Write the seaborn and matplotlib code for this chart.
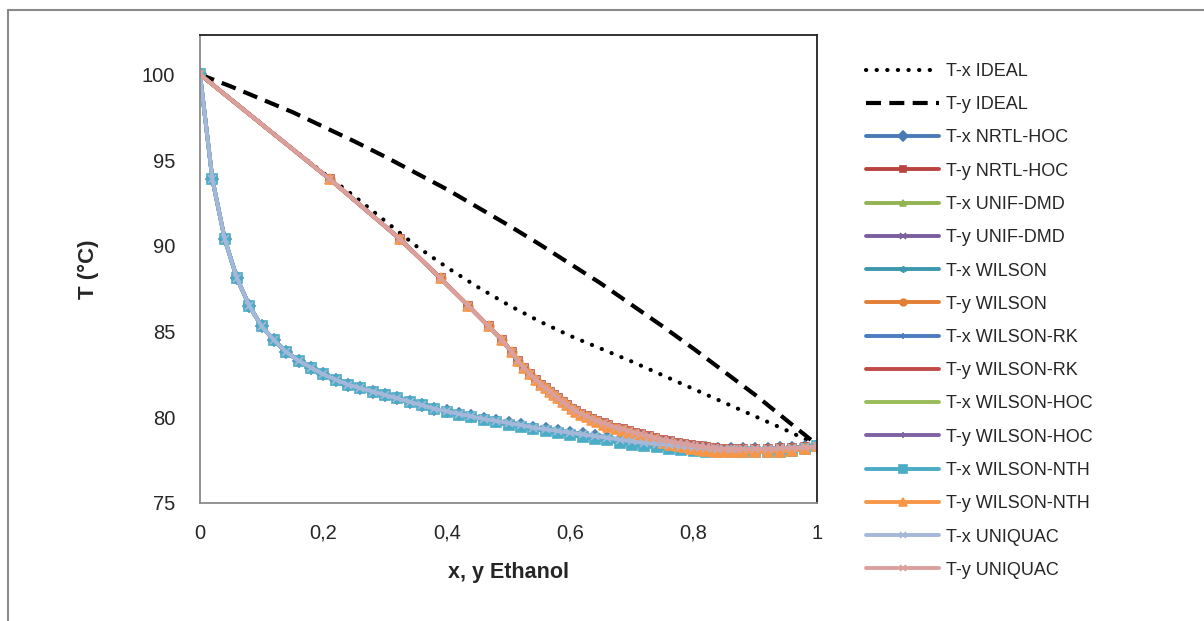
import matplotlib
matplotlib.use("Agg")
import matplotlib.pyplot as plt
from matplotlib.lines import Line2D
import seaborn as sns

# ---- data -------------------------------------------------------------
# ideal (Raoult) bubble and dew curves
ideal_comp = [0.00, 0.05, 0.10, 0.15, 0.20, 0.25, 0.30, 0.35, 0.40, 0.45, 0.50,
              0.55, 0.60, 0.65, 0.70, 0.75, 0.80, 0.85, 0.90, 0.95, 1.00]
ideal_T_x = [100.0, 98.55, 97.1, 95.65, 94.25, 92.9, 91.45, 90.0, 88.75, 87.6, 86.55,
             85.6, 84.75, 84.0, 83.25, 82.45, 81.65, 80.85, 80.05, 79.25, 78.4]
ideal_T_y = [100.0, 99.3, 98.55, 97.8, 96.95, 96.1, 95.2, 94.25, 93.3, 92.25, 91.2,
             90.1, 88.95, 87.8, 86.55, 85.3, 84.0, 82.65, 81.3, 79.85, 78.4]

# liquid mole fraction of ethanol (common grid of the model runs)
x_liq = [0.00, 0.02, 0.04, 0.06, 0.08, 0.10, 0.12, 0.14, 0.16, 0.18,
         0.20, 0.22, 0.24, 0.26, 0.28, 0.30, 0.32, 0.34, 0.36, 0.38,
         0.40, 0.42, 0.44, 0.46, 0.48, 0.50, 0.52, 0.54, 0.56, 0.58,
         0.60, 0.62, 0.64, 0.66, 0.68, 0.70, 0.72, 0.74, 0.76, 0.78,
         0.80, 0.82, 0.84, 0.86, 0.88, 0.90, 0.92, 0.94, 0.96, 0.98, 1.00]

# equilibrium temperature (°C) from the activity-coefficient models
T_eq = [100.0, 93.9, 90.4, 88.1, 86.5, 85.3, 84.5, 83.8, 83.3, 82.9,
        82.5, 82.2, 81.9, 81.7, 81.5, 81.3, 81.1, 80.9, 80.7, 80.5,
        80.35, 80.2, 80.05, 79.9, 79.8, 79.65, 79.55, 79.4, 79.3, 79.2,
        79.1, 79.0, 78.9, 78.8, 78.7, 78.6, 78.5, 78.45, 78.4, 78.3,
        78.25, 78.2, 78.15, 78.15, 78.15, 78.15, 78.15, 78.2, 78.2, 78.25, 78.3]

# WILSON-NTH predicts a slightly lower azeotrope temperature
T_eq_nth = [100.0, 93.9, 90.4, 88.1, 86.5, 85.3, 84.5, 83.8, 83.3, 82.9,
            82.5, 82.2, 81.9, 81.7, 81.5, 81.3, 81.1, 80.9, 80.7, 80.5,
            80.3, 80.15, 80.0, 79.85, 79.7, 79.55, 79.45, 79.3, 79.2, 79.1,
            78.95, 78.85, 78.75, 78.65, 78.5, 78.4, 78.3, 78.25, 78.15, 78.1,
            78.05, 78.0, 77.95, 77.95, 77.95, 77.95, 78.0, 78.0, 78.05, 78.15, 78.3]

# vapour mole fraction of ethanol in equilibrium with x_liq
y_vap = [0.000, 0.210, 0.324, 0.390, 0.435, 0.468, 0.490, 0.505, 0.515, 0.525,
         0.535, 0.545, 0.553, 0.560, 0.567, 0.573, 0.580, 0.588, 0.595, 0.603,
         0.610, 0.618, 0.627, 0.636, 0.643, 0.654, 0.662, 0.675, 0.685, 0.695,
         0.705, 0.715, 0.727, 0.738, 0.750, 0.762, 0.775, 0.785, 0.795, 0.810,
         0.820, 0.835, 0.850, 0.865, 0.880, 0.900, 0.920, 0.940, 0.960, 0.980, 1.000]

models = ["NRTL-HOC", "UNIF-DMD", "WILSON", "WILSON-RK",
          "WILSON-HOC", "WILSON-NTH", "UNIQUAC"]

x_ticks = [0.0, 0.2, 0.4, 0.6, 0.8, 1.0]
x_tick_labels = ["0", "0,2", "0,4", "0,6", "0,8", "1"]
y_ticks = [75, 80, 85, 90, 95, 100]

# ---- style ------------------------------------------------------------
# (T-x colour, T-x marker, T-y colour, T-y marker) for each model
model_style = {
    "NRTL-HOC":   ("#4a7ab5", "D", "#b9433f", "s"),
    "UNIF-DMD":   ("#93b352", "^", "#7a5e9d", "x"),
    "WILSON":     ("#3d98ad", (6, 2, 0), "#e27f35", "o"),
    "WILSON-RK":  ("#4b7cbf", "+", "#c04b48", "_"),
    "WILSON-HOC": ("#9abb5a", "_", "#7f62a3", "+"),
    "WILSON-NTH": ("#4bacc6", "s", "#f79646", "^"),
    "UNIQUAC":    ("#a6b8da", "x", "#d9a09e", "x"),
}

sns.set_theme(style="white")
plt.rcParams["font.family"] = ["Liberation Sans", "DejaVu Sans"]

fig = plt.figure(figsize=(12.04, 6.21), dpi=100)
ax = fig.add_axes([200 / 1204, 1 - 503 / 621, 617 / 1204, 468 / 621])

sns.lineplot(x=ideal_comp, y=ideal_T_x, ax=ax, color="black", lw=3,
             linestyle=(0, (0.05, 2.5)), dash_capstyle="round",
             label="T-x IDEAL", sort=False, estimator=None)
sns.lineplot(x=ideal_comp, y=ideal_T_y, ax=ax, color="black", lw=3,
             linestyle=(0, (3.6, 2.0)), label="T-y IDEAL",
             sort=False, estimator=None)

for m in models:
    cx, mx, cy, my = model_style[m]
    temps = T_eq_nth if m == "WILSON-NTH" else T_eq
    ms = 7 if m == "WILSON-NTH" else 6
    sns.lineplot(x=x_liq, y=temps, ax=ax, color=cx, lw=2.8, marker=mx,
                 markersize=ms, markeredgecolor=cx, markerfacecolor=cx,
                 markeredgewidth=1.2, label=f"T-x {m}",
                 sort=False, estimator=None)
    sns.lineplot(x=y_vap, y=temps, ax=ax, color=cy, lw=2.8, marker=my,
                 markersize=ms, markeredgecolor=cy, markerfacecolor=cy,
                 markeredgewidth=1.2, label=f"T-y {m}",
                 sort=False, estimator=None)

ax.set_xlim(0, 1)
ax.set_ylim(75, 102.3)
ax.set_xticks(x_ticks)
ax.set_xticklabels(x_tick_labels)
ax.set_yticks(y_ticks)
ax.tick_params(axis="both", length=0, labelsize=14.5, labelcolor="#262626")
ax.tick_params(axis="x", pad=15)
ax.tick_params(axis="y", pad=18)

for side in ("top", "right"):
    ax.spines[side].set_color("#222222")
    ax.spines[side].set_linewidth(1.3)
for side in ("left", "bottom"):
    ax.spines[side].set_color("#8a8a8a")
    ax.spines[side].set_linewidth(1.3)

ax.set_xlabel("x, y Ethanol", fontsize=15.5, fontweight="bold", labelpad=14,
              color="#262626")
ax.set_ylabel("T (°C)", fontsize=16, fontweight="bold", labelpad=31,
              color="#262626")

ax.legend(loc="upper left", bbox_to_anchor=(866 / 1204, 1 - 63 / 621),
          bbox_transform=fig.transFigure, frameon=False, fontsize=13,
          handlelength=4.05, handletextpad=0.4, labelspacing=0.9,
          borderaxespad=0, borderpad=0, markerscale=0.8,
          labelcolor="#262626")

# outer chart-area frame
fig.add_artist(Line2D([8 / 1204, 1.0], [1 - 10 / 621, 1 - 10 / 621],
                      transform=fig.transFigure, color="#8a8a8a", lw=1.5))
fig.add_artist(Line2D([8 / 1204, 8 / 1204], [0.0, 1 - 10 / 621],
                      transform=fig.transFigure, color="#8a8a8a", lw=1.5))

fig.savefig("out.png", dpi=100)
